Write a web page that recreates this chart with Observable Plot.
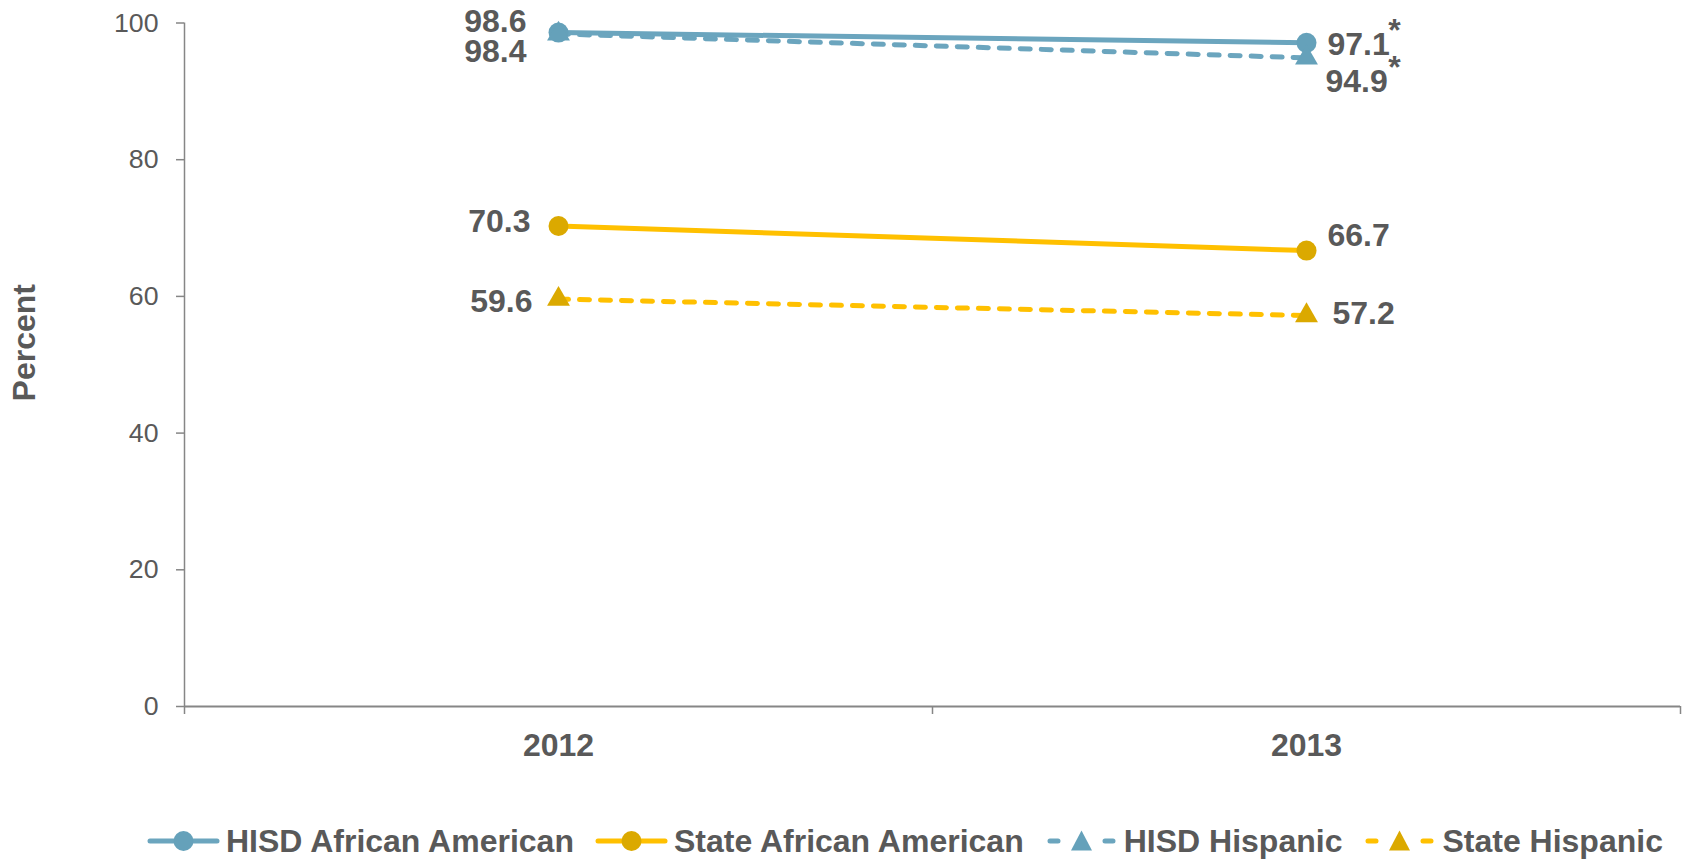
<!DOCTYPE html>
<html>
<head>
<meta charset="utf-8">
<script src="https://cdn.jsdelivr.net/npm/d3@7"></script>
<script src="https://cdn.jsdelivr.net/npm/@observablehq/plot@0.6"></script>
<style>
  html, body { margin: 0; padding: 0; background: #fff; }
  body { width: 1685px; height: 860px; overflow: hidden; font-family: "Liberation Sans", Arial, sans-serif; color: #595959; }
  #legend { display: flex; align-items: center; height: 40px; margin-top: 31px; padding-left: 147px; }
  .item { display: flex; align-items: center; margin-right: 21px; }
  .item svg { display: block; margin-right: 6px; }
  .item span { font-size: 32px; font-weight: bold; white-space: nowrap; }
</style>
</head>
<body>
<div id="chart"></div>
<div id="legend"></div>
<script>
// ---- data ----
const years = ["2012", "2013"];
const seriesNames = ["HISD African American", "State African American", "HISD Hispanic", "State Hispanic"];
const hisdAfricanAmerican = [98.6, 97.1];
const stateAfricanAmerican = [70.3, 66.7];
const hisdHispanic = [98.4, 94.9];
const stateHispanic = [59.6, 57.2];
const hisdAfricanAmericanNote = ["", "*"];
const stateAfricanAmericanNote = ["", ""];
const hisdHispanicNote = ["", "*"];
const stateHispanicNote = ["", ""];
const yTicks = [0, 20, 40, 60, 80, 100];
const yLabel = "Percent";

// ---- styles ----
const blueLine = "#6BA5BE", blueMark = "#65A1BA";
const goldLine = "#FFC000", goldMark = "#DBA900";
const textColor = "#595959", axisColor = "#868686";
const boldSize = 32;

const seriesStyle = [
  {values: hisdAfricanAmerican, notes: hisdAfricanAmericanNote, line: blueLine, mark: blueMark, dash: null, symbol: "circle", r: 10,
   dx: [-32, 21], dy: [-10.5, 2], ndy: [0, -12.5]},
  {values: stateAfricanAmerican, notes: stateAfricanAmericanNote, line: goldLine, mark: goldMark, dash: null, symbol: "circle", r: 10,
   dx: [-28, 21], dy: [-4, -15], ndy: [0, 0]},
  {values: hisdHispanic, notes: hisdHispanicNote, line: blueLine, mark: blueMark, dash: "10,11", symbol: "triangle", r: 8.5,
   dx: [-32, 19], dy: [17.5, 24], ndy: [0, 10]},
  {values: stateHispanic, notes: stateHispanicNote, line: goldLine, mark: goldMark, dash: "10,11", symbol: "triangle", r: 8.5,
   dx: [-26, 26], dy: [2.5, -2], ndy: [0, 0]}
];

const rows = s => years.map((yr, i) => ({i, x: i + 0.5, year: yr, v: s.values[i], note: s.notes[i]}));

const marks = [
  // axes
  Plot.axisY({ticks: yTicks, tickSize: 8, tickPadding: 18, fontSize: 26.7, stroke: axisColor, fill: textColor, label: null, strokeWidth: 1.5}),
  Plot.axisX({ticks: d3.range(years.length + 1), tickSize: 8, tickFormat: () => "", stroke: axisColor, strokeWidth: 1.5, label: null}),
  Plot.axisX({ticks: years.map((d, i) => i + 0.5), tickSize: 0, tickPadding: 27, tickFormat: d => years[Math.floor(d)],
    fontSize: boldSize, fontWeight: "bold", fill: textColor, label: null}),
  Plot.ruleX([0], {y1: 0, y2: 100, stroke: axisColor, strokeWidth: 1.5}),
  Plot.ruleY([0], {stroke: axisColor, strokeWidth: 2.2}),
  Plot.text([yLabel], {frameAnchor: "left", textAnchor: "middle", lineAnchor: "middle", dx: -160, dy: -22, rotate: -90,
    fontSize: boldSize, fontWeight: "bold", fill: textColor})
];

for (const s of seriesStyle) {
  const data = rows(s);
  marks.push(Plot.lineY(data, {x: "x", y: "v", stroke: s.line, strokeWidth: 5, strokeLinecap: "round",
    strokeDasharray: s.dash ?? undefined}));
}
for (const s of seriesStyle) {
  const data = rows(s);
  marks.push(Plot.dot(data, {x: "x", y: "v", symbol: () => s.symbol, r: s.r, fill: s.mark, stroke: "none"}));
}
for (const s of seriesStyle) {
  const data = rows(s);
  data.forEach((d, i) => {
    marks.push(Plot.text([d], {x: "x", y: "v", text: dd => dd.v.toFixed(1), dx: s.dx[i], dy: s.dy[i],
      textAnchor: i === 0 ? "end" : "start", fontSize: boldSize, fontWeight: "bold", fill: textColor}));
    if (d.note) {
      marks.push(Plot.text([d], {x: "x", y: "v", text: "note", dx: 88, dy: s.ndy[i], textAnchor: "middle",
        fontSize: boldSize, fontWeight: "bold", fill: textColor}));
    }
  });
}

const chart = Plot.plot({
  width: 1685,
  height: 790,
  marginTop: 22.5,
  marginBottom: 84,
  marginLeft: 184,
  marginRight: 5,
  style: {fontFamily: "'Liberation Sans', Arial, sans-serif", color: textColor, background: "#fff", overflow: "visible"},
  x: {type: "linear", domain: [0, years.length], axis: null},
  y: {domain: [0, 100], axis: null},
  marks
});
document.getElementById("chart").appendChild(chart);

// ---- legend ----
const legend = document.getElementById("legend");
seriesStyle.forEach((s, k) => {
  const item = document.createElement("div");
  item.className = "item";
  const marker = s.symbol === "circle"
    ? `<circle cx="36.5" cy="12" r="10" fill="${s.mark}"/>`
    : `<path d="M36.5,1.5 L47,21.5 L26,21.5 Z" fill="${s.mark}"/>`;
  const line = s.dash
    ? `<line x1="5" y1="12" x2="68" y2="12" stroke="${s.line}" stroke-width="5" stroke-linecap="round" stroke-dasharray="8,47"/>`
    : `<line x1="3" y1="12" x2="70" y2="12" stroke="${s.line}" stroke-width="5" stroke-linecap="round"/>`;
  item.innerHTML = `<svg width="73" height="24">${line}${marker}</svg><span>${seriesNames[k]}</span>`;
  legend.appendChild(item);
});
</script>
</body>
</html>
